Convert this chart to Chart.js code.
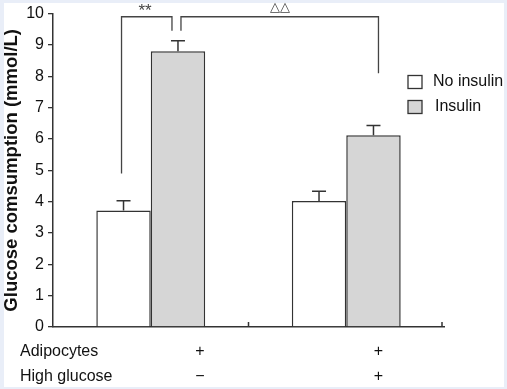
<!DOCTYPE html>
<html>
<head>
<meta charset="utf-8">
<script src="https://cdn.jsdelivr.net/npm/chart.js@4.4.0/dist/chart.umd.min.js"></script>
<style>
  html, body { margin: 0; padding: 0; background: #e9eef8; }
  #wrap { width: 507px; height: 389px; }
</style>
</head>
<body>
<div id="wrap"><canvas id="chartgraph" width="507" height="389"></canvas></div>
<script>
// data
var groups = ['Group 1', 'Group 2'];
var noInsulin = [3.72, 4.02];
var insulin = [8.80, 6.12];
var noInsulinErr = [0.31, 0.31];
var insulinErr = [0.33, 0.31];
var rowLabels = ['Adipocytes', 'High glucose'];
var adipocytesRow = ['+', '+'];
var highGlucoseRow = ['\u2212', '+'];
var sigMarks = ['**', '\u25B3\u25B3'];
var bracketTop = 9.9;
var bracketFeet = [[4.9, 9.45], [9.45, 8.1]];

var FONT = '"Liberation Sans", Arial, sans-serif';
var INK = '#333';

//frame + white panel
var framePlugin = {
  id: 'frame',
  beforeDraw: function(chart) {
    var c = chart.ctx;
    c.save();
    c.fillStyle = '#e9eef8';
    c.fillRect(0, 0, chart.width, chart.height);
    c.fillStyle = '#fff';
    c.fillRect(4, 3, chart.width - 7, chart.height - 5);
    c.restore();
  }
};

// error bars, brackets, legend, bottom table
var extrasPlugin = {
  id: 'extras',
  afterDatasetsDraw: function(chart) {
    var c = chart.ctx;
    var y = chart.scales.y, x = chart.scales.x;
    var m0 = chart.getDatasetMeta(0), m1 = chart.getDatasetMeta(1);
    c.save();
    c.strokeStyle = INK;
    c.lineWidth = 1.5;

    // error bars (upper only)
    [[m0, noInsulin, noInsulinErr], [m1, insulin, insulinErr]].forEach(function(s) {
      s[0].data.forEach(function(bar, i) {
        var top = y.getPixelForValue(s[1][i] + s[2][i]);
        c.beginPath();
        c.moveTo(bar.x, bar.y);
        c.lineTo(bar.x, top);
        c.moveTo(bar.x - 7, top);
        c.lineTo(bar.x + 7, top);
        c.stroke();
      });
    });

    // inner ticks on x axis at category edges
    c.beginPath();
    [x.getPixelForValue(0.5), chart.chartArea.right - 2].forEach(function(px) {
      c.moveTo(px, y.bottom);
      c.lineTo(px, y.bottom - 5);
    });
    c.stroke();

    // significance brackets
    var topPx = y.getPixelForValue(bracketTop);
    var b1 = [m0.data[0].x - 2, m1.data[0].x - 6];
    var b2 = [m1.data[0].x + 3, m1.data[1].x + 5];
    c.lineWidth = 1.3;
    c.strokeStyle = '#444';
    [b1, b2].forEach(function(b, i) {
      c.beginPath();
      c.moveTo(b[0], y.getPixelForValue(bracketFeet[i][0]));
      c.lineTo(b[0], topPx);
      c.lineTo(b[1], topPx);
      c.lineTo(b[1], y.getPixelForValue(bracketFeet[i][1]));
      c.stroke();
    });
    c.fillStyle = '#444';
    c.textAlign = 'center';
    c.textBaseline = 'middle';
    c.font = '17px ' + FONT;
    c.fillText(sigMarks[0], 145, 11);
    c.font = '13px "DejaVu Sans", sans-serif';
    c.fillText(sigMarks[1], 280, 8);

    // legend
    var ds = chart.data.datasets;
    c.font = '16px ' + FONT;
    c.textAlign = 'left';
    c.lineWidth = 1.3;
    ds.forEach(function(d, i) {
      var ly = 82 + i * 25;
      c.fillStyle = d.backgroundColor;
      c.fillRect(408, ly - 6.5, 14, 13);
      c.strokeStyle = INK;
      c.strokeRect(408, ly - 6.5, 14, 13);
      c.fillStyle = '#111';
      c.fillText(d.label, 433 + (i ? 2 : 0), ly);
    });

    // bottom condition table
    c.fillStyle = '#111';
    rowLabels.forEach(function(lbl, r) {
      var ry = 352 + r * 25;
      c.textAlign = 'left';
      c.fillText(lbl, 20, ry);
      var row = r === 0 ? adipocytesRow : highGlucoseRow;
      c.textAlign = 'center';
      row.forEach(function(sym, i) {
        c.fillText(sym, m1.data[i].x + (i ? 5 : 22), ry);
      });
    });
    c.restore();
  }
};

var ctx = document.getElementById('chartgraph').getContext('2d');
var chart = new Chart(ctx, {
  type: 'bar',
  data: {
    labels: groups,
    datasets: [{
      label: 'No insulin',
      data: noInsulin,
      backgroundColor: '#ffffff',
      borderColor: INK,
      borderWidth: 1.5
    }, {
      label: 'Insulin',
      data: insulin,
      backgroundColor: '#d6d6d6',
      borderColor: INK,
      borderWidth: 1.5
    }]
  },
  options: {
    responsive: false,
    animation: false,
    events: [],
    layout: { padding: { top: 12, right: 63, left: 0, bottom: 0 } },
    datasets: { bar: { categoryPercentage: 0.557, barPercentage: 1.0 } },
    plugins: { legend: { display: false }, tooltip: { enabled: false } },
    scales: {
      x: {
        grid: { display: false },
        ticks: { display: false },
        border: { color: INK, width: 1.5 },
        afterFit: function(s) { s.height = 62; }
      },
      y: {
        min: 0,
        max: 10,
        ticks: { stepSize: 1, color: '#111', padding: 4, font: { family: FONT, size: 16 } },
        grid: { drawOnChartArea: false, tickLength: 5, color: INK, lineWidth: 1.3 },
        border: { color: INK, width: 1.5 },
        title: {
          display: true,
          text: 'Glucose comsumption (mmol/L)',
          color: '#111',
          font: { family: FONT, size: 18.5, weight: 'bold' },
          padding: { top: 1, bottom: 0 }
        },
        afterFit: function(s) { s.width = 53; }
      }
    }
  },
  plugins: [framePlugin, extrasPlugin]
});
</script>
</body>
</html>
